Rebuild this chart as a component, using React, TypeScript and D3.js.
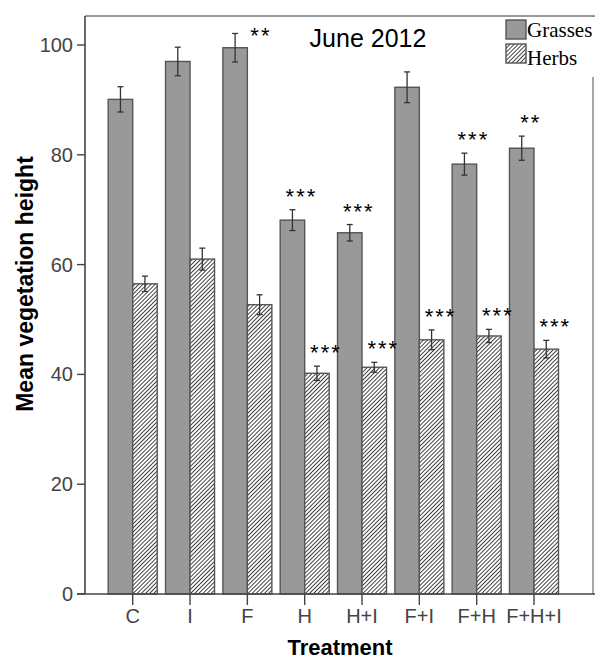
import React from "react";
import * as d3 from "d3";

// Treatments along the x axis
const treatments = ["C", "I", "F", "H", "H+I", "F+I", "F+H", "F+H+I"];

// Mean vegetation height per treatment, with standard errors
const grassMeans = [90.1, 97.0, 99.5, 68.1, 65.8, 92.3, 78.3, 81.2];
const grassErrors = [2.3, 2.6, 2.6, 1.9, 1.5, 2.8, 2.0, 2.2];
const herbMeans = [56.5, 61.0, 52.7, 40.2, 41.3, 46.3, 47.0, 44.6];
const herbErrors = [1.4, 2.0, 1.8, 1.3, 0.9, 1.8, 1.2, 1.6];

// Significance markers relative to the control
const grassSig = ["", "", "**", "***", "***", "", "***", "**"];
const herbSig = ["", "", "", "***", "***", "***", "***", "***"];

const yTicks = [0, 20, 40, 60, 80, 100];

const W = 595;
const H = 660;
const frame = { left: 85, right: 593, top: 16, bottom: 594 };
const barW = 24.5;

const axisColor = "#444";
const sans = "Arial, 'Liberation Sans', sans-serif";
const serif = "'Times New Roman', 'Liberation Serif', serif";

export default function App() {
  const x = d3.scalePoint<string>().domain(treatments).range([132.7, 534]);
  const y = d3.scaleLinear().domain([0, 100]).range([frame.bottom, 45]);

  const series = [
    { key: "g", means: grassMeans, errs: grassErrors, sig: grassSig, dx: -barW, fill: "#999999" },
    { key: "h", means: herbMeans, errs: herbErrors, sig: herbSig, dx: 0, fill: "url(#hatch)" },
  ];

  return (
    <svg
      width={W}
      height={H}
      style={{ position: "absolute", left: 0, top: 0, background: "#fff" }}
    >
      <defs>
        <pattern
          id="hatch"
          patternUnits="userSpaceOnUse"
          width={2.9}
          height={2.9}
          patternTransform="rotate(45)"
        >
          <rect width={2.9} height={2.9} fill="#fff" />
          <line x1={0} y1={0} x2={0} y2={2.9} stroke="#222" strokeWidth={1.7} />
        </pattern>
      </defs>

      {/* plot frame */}
      <line x1={frame.left} x2={frame.right + 2} y1={frame.top} y2={frame.top} stroke="#777" strokeWidth={1.6} />
      <line x1={frame.right} x2={frame.right} y1={frame.top} y2={frame.bottom} stroke="#777" strokeWidth={1.3} />

      {/* bars */}
      {series.map((s) =>
        treatments.map((t, i) => {
          const x0 = (x(t) as number) + s.dx;
          return (
            <rect
              key={s.key + t}
              x={x0}
              y={y(s.means[i])}
              width={barW}
              height={y(0) - y(s.means[i])}
              fill={s.fill}
              stroke="#555"
              strokeWidth={1.4}
            />
          );
        })
      )}

      {/* error bars */}
      {series.map((s) =>
        treatments.map((t, i) => {
          const cx = (x(t) as number) + s.dx + barW / 2;
          const top = y(s.means[i] + s.errs[i]);
          const bot = y(s.means[i] - s.errs[i]);
          return (
            <g key={"e" + s.key + t} stroke="#333" strokeWidth={1.3}>
              <line x1={cx} x2={cx} y1={top} y2={bot} />
              <line x1={cx - 3} x2={cx + 3} y1={top} y2={top} />
              <line x1={cx - 3} x2={cx + 3} y1={bot} y2={bot} />
            </g>
          );
        })
      )}

      {/* significance stars */}
      {series.map((s) =>
        treatments.map((t, i) => {
          if (!s.sig[i]) return null;
          const cx = (x(t) as number) + s.dx + barW / 2;
          const top = y(s.means[i] + s.errs[i]);
          const above = top - 6;
          // no room above the frame: put the marker beside the cap
          const beside = above - 16 < frame.top;
          return (
            <text
              key={"s" + s.key + t}
              x={beside ? cx + barW / 2 + 3 : cx + 9}
              y={beside ? top + 10 : above}
              textAnchor={beside ? "start" : "middle"}
              fontFamily={sans}
              fontSize={22}
              letterSpacing={2}
              fill="#000"
            >
              {s.sig[i]}
            </text>
          );
        })
      )}

      {/* y axis */}
      <line x1={frame.left} x2={frame.left} y1={frame.top} y2={frame.bottom} stroke={axisColor} strokeWidth={1.6} />
      {yTicks.map((v) => (
        <g key={"y" + v}>
          <line x1={frame.left - 8} x2={frame.left} y1={y(v)} y2={y(v)} stroke={axisColor} strokeWidth={1.4} />
          <text
            x={frame.left - 12}
            y={y(v)}
            dy="0.35em"
            textAnchor="end"
            fontFamily={sans}
            fontSize={20}
            fill="#444"
          >
            {v}
          </text>
        </g>
      ))}

      {/* x axis */}
      <line x1={frame.left - 8} x2={frame.right + 2} y1={frame.bottom} y2={frame.bottom} stroke={axisColor} strokeWidth={1.6} />
      {treatments.map((t) => (
        <g key={"x" + t}>
          <line x1={x(t)} x2={x(t)} y1={frame.bottom} y2={frame.bottom + 11} stroke={axisColor} strokeWidth={1.4} />
          <text
            x={x(t)}
            y={623}
            textAnchor="middle"
            fontFamily={sans}
            fontSize={20}
            fill="#444"
          >
            {t}
          </text>
        </g>
      ))}

      {/* axis titles */}
      <text x={340} y={655} textAnchor="middle" fontFamily={sans} fontSize={22} fontWeight="bold" fill="#000">
        Treatment
      </text>
      <text
        transform="translate(33,284) rotate(-90)"
        textAnchor="middle"
        fontFamily={sans}
        fontSize={23}
        fontWeight="bold"
        fill="#000"
      >
        Mean vegetation height
      </text>

      {/* title */}
      <text x={368} y={47} textAnchor="middle" fontFamily={sans} fontSize={25} fill="#000">
        June 2012
      </text>

      {/* legend */}
      <rect x={500} y={frame.top + 1} width={W - 500} height={60} fill="#fff" />
      <rect x={506} y={20} width={20} height={19} fill="#999999" stroke="#555" strokeWidth={1.4} />
      <text x={527} y={37} fontFamily={serif} fontSize={21} fill="#000">
        Grasses
      </text>
      <rect x={506} y={44} width={20} height={19} fill="url(#hatch)" stroke="#555" strokeWidth={1.4} />
      <text x={527} y={65} fontFamily={serif} fontSize={21} fill="#000">
        Herbs
      </text>
    </svg>
  );
}
